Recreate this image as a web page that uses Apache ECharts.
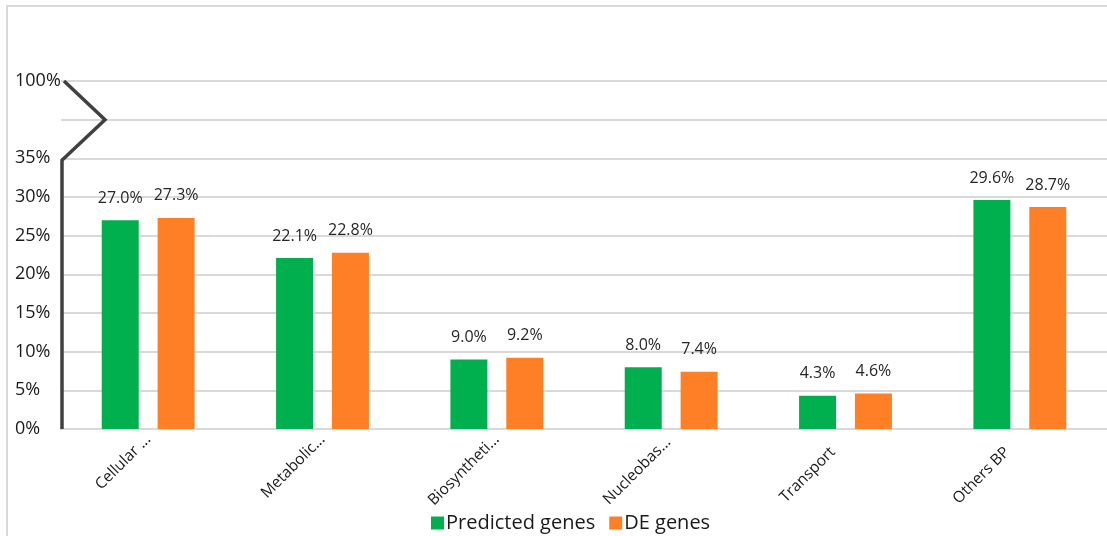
<!DOCTYPE html>
<html>
<head>
<meta charset="utf-8">
<script src="https://cdn.jsdelivr.net/npm/echarts@6/dist/echarts.min.js"></script>
<style>
  html, body { margin: 0; padding: 0; background: #fff; }
  #frame { position: absolute; left: 6px; top: 5px; width: 1110px; height: 540px;
           border-left: 2px solid #d9d9d9; border-top: 2px solid #d9d9d9; }
  #chart { position: absolute; left: 0; top: 0; width: 1107px; height: 536px; }
</style>
</head>
<body>
<div id="frame"></div>
<div id="chart"></div>
<script>
// Biological process categories (labels as shown on the axis)
const categories = ['Cellular ...', 'Metabolic...', 'Biosyntheti...', 'Nucleobas...', 'Transport', 'Others BP'];
// Percentage of genes per category
const predictedGenes = [27.0, 22.1, 9.0, 8.0, 4.3, 29.6];
const deGenes = [27.3, 22.8, 9.2, 7.4, 4.6, 28.7];
// Y axis: linear 0–35 %, then a broken segment whose top tick stands for 100 %
const yTicks = { 0: '0%', 5: '5%', 10: '10%', 15: '15%', 20: '20%', 25: '25%', 30: '30%', 35: '35%', 40: '', 45: '100%' };

const FONT = '"Open Sans", "Noto Sans", sans-serif';
const chart = echarts.init(document.getElementById('chart'), null, { renderer: 'canvas' });

// Shorter rotated labels sit a little further left
const labelPadding = {
  'Nucleobas...': [0, 4, 7, 0],
  'Transport': [0, 18, 23, 0],
  'Others BP': [0, 18, 48, 0]
};
const xData = categories.map(c => labelPadding[c]
  ? { value: c, textStyle: { padding: labelPadding[c] } }
  : c);

const labelStyle = {
  show: true, position: 'top', distance: 14,
  formatter: p => p.value.toFixed(1) + '%',
  fontFamily: FONT, fontSize: 16, color: '#262626'
};

chart.setOption({
  animation: false,
  backgroundColor: 'transparent',
  grid: { left: 61, right: 0, top: 81, bottom: 107, containLabel: false },
  legend: {
    left: 426, top: 508, itemWidth: 13, itemHeight: 13, itemGap: 14,
    icon: 'rect',
    textStyle: { fontFamily: FONT, fontSize: 20, color: '#1a1a1a', padding: [0, 0, 0, -3] },
    data: ['Predicted genes', 'DE genes']
  },
  xAxis: {
    type: 'category', data: xData,
    axisLine: { show: true, lineStyle: { color: '#d9d9d9', width: 2 } },
    axisTick: { show: false },
    axisLabel: { rotate: 45, interval: 0, margin: 8, fontFamily: FONT, fontSize: 15.5, color: '#1a1a1a' }
  },
  yAxis: {
    type: 'value', min: 0, max: 45, interval: 5,
    axisLine: { show: false }, axisTick: { show: false },
    splitLine: { lineStyle: { color: '#d9d9d9', width: 2 } },
    axisLabel: {
      align: 'left', margin: 46, fontFamily: FONT, fontSize: 18, color: '#1a1a1a',
      formatter: v => yTicks[v] !== undefined ? yTicks[v] : ''
    }
  },
  series: [
    { name: 'Predicted genes', type: 'bar', data: predictedGenes, barWidth: 37, barGap: '51%',
      itemStyle: { color: '#00B04F' }, label: labelStyle },
    { name: 'DE genes', type: 'bar', data: deGenes, barWidth: 37,
      itemStyle: { color: '#FF7F27' }, label: labelStyle }
  ]
});

// Axis line with a zig-zag break between 35 % and 100 %
function drawBreak() {
  const left = chart.getModel().getComponent('grid').coordinateSystem.getRect().x + 1;
  const y0 = chart.convertToPixel({ yAxisIndex: 0 }, 0);
  const y35 = chart.convertToPixel({ yAxisIndex: 0 }, 35);
  const y40 = chart.convertToPixel({ yAxisIndex: 0 }, 40);
  const y45 = chart.convertToPixel({ yAxisIndex: 0 }, 45);
  chart.setOption({
    graphic: [{
      type: 'polyline', z: 100,
      shape: { points: [[left, y0], [left, y35 + 2], [left + 43, y40], [left + 2, y45]] },
      style: { stroke: '#404040', lineWidth: 3.5, fill: null, lineJoin: 'miter' }
    }]
  });
}
drawBreak();
</script>
</body>
</html>
